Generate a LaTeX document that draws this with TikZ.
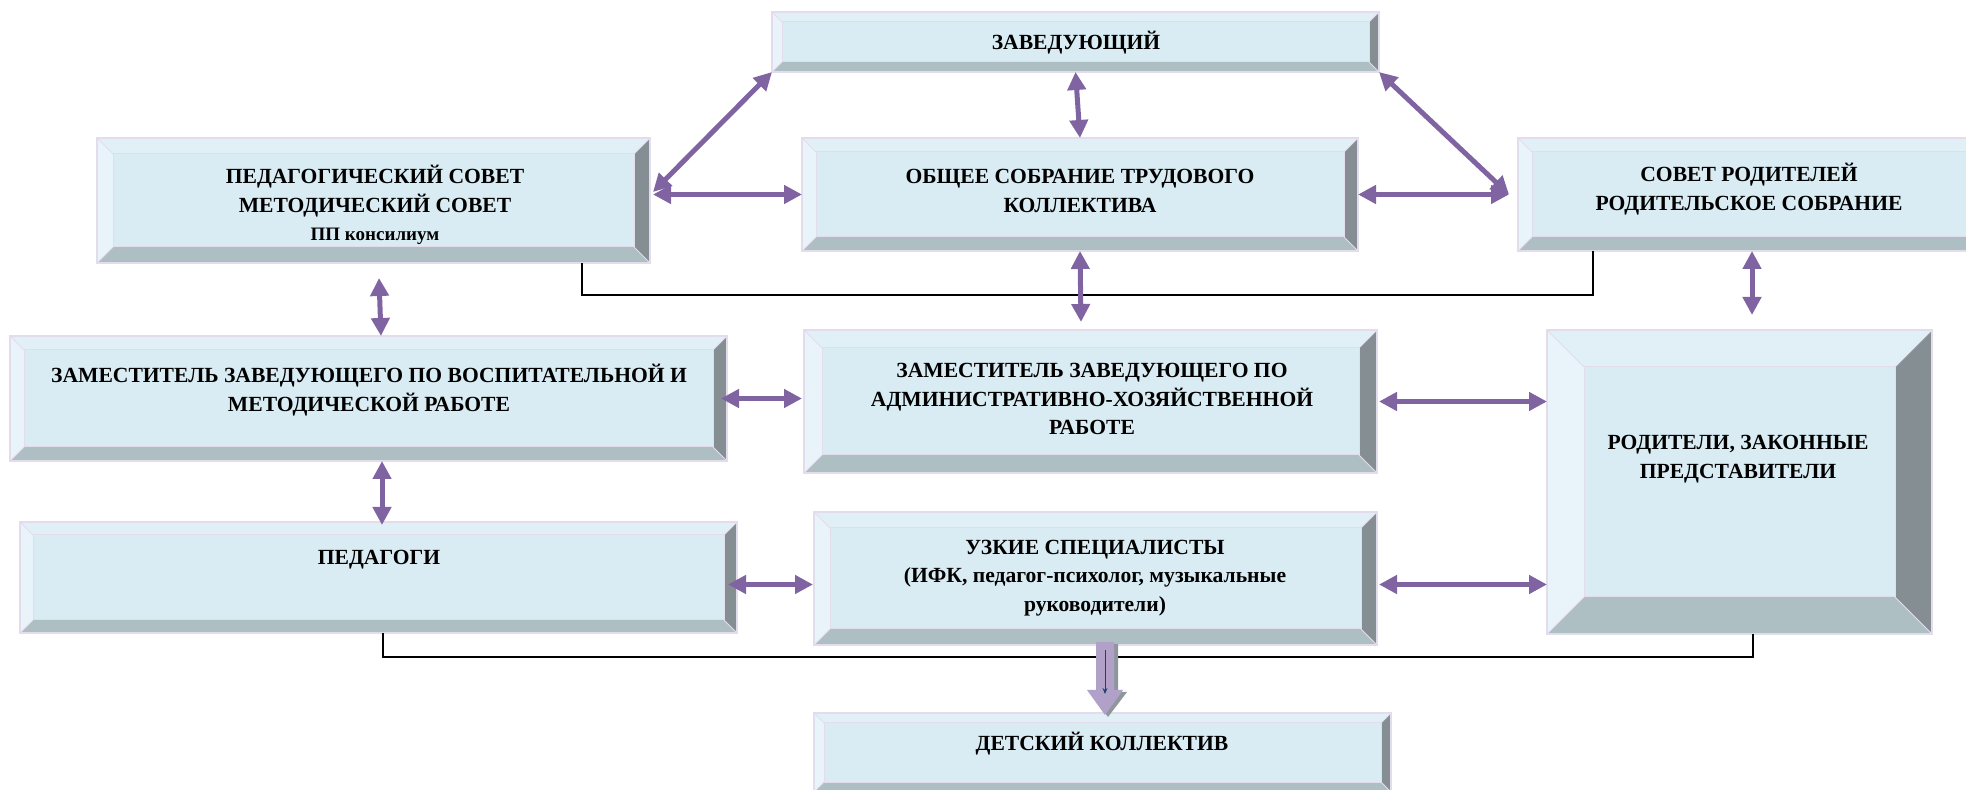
\documentclass[tikz,border=0pt]{standalone}
\usepackage{fontspec}
\setmainfont{Liberation Serif}
\usetikzlibrary{arrows.meta,calc}
\definecolor{cface}{HTML}{DAECF3}
\definecolor{ctop}{HTML}{E1F0F6}
\definecolor{cleft}{HTML}{E9F4FA}
\definecolor{cright}{HTML}{858E93}
\definecolor{cbottom}{HTML}{AEBFC3}
\definecolor{cedge}{HTML}{E2DCEC}
\definecolor{arrowc}{HTML}{8064A2}
\definecolor{bigarrow}{HTML}{B1A0C7}
\definecolor{bigshadow}{HTML}{8D979C}
\definecolor{blueline}{HTML}{1F3F7A}
\tikzset{
  boxshape/.style={rectangle, draw=none, inner sep=0pt, outer sep=0pt},
  edgeline/.style={draw=cedge, line width=0.8pt},
  inedge/.style={draw=cedge, line width=0.5pt},
  lbl/.style={font=\bfseries\fontsize{10.8}{14.2}\selectfont, align=center, inner sep=0pt},
  conn/.style={draw=arrowc, line width=2.5pt, {Triangle[length=9pt,width=9pt]}-{Triangle[length=9pt,width=9pt]}},
  bracket/.style={draw=black, line width=1pt},
}
% name, x1, y1, x2, y2, bevel (px units)
\newcommand\bevelbox[6]{%
  \node[boxshape, minimum width={(#4-#2)*0.5pt}, minimum height={(#5-#3)*0.5pt}] (#1) at ({(#2+#4)/2},{(#3+#5)/2}) {};
  \coordinate (#1-a) at ($(#1.north west)+(#6,#6)$);
  \coordinate (#1-b) at ($(#1.south east)-(#6,#6)$);
  \fill[cface] (#1-a) rectangle (#1-b);
  \fill[ctop] (#1.north west) -- (#1.north east) -- (#1-b |- #1-a) -- (#1-a) -- cycle;
  \fill[cleft] (#1.north west) -- (#1-a) -- (#1-a |- #1-b) -- (#1.south west) -- cycle;
  \fill[cright] (#1.north east) -- (#1.south east) -- (#1-b) -- (#1-b |- #1-a) -- cycle;
  \fill[cbottom] (#1.south west) -- (#1.south east) -- (#1-b) -- (#1-a |- #1-b) -- cycle;
  \draw[inedge] (#1-a) rectangle (#1-b);
  \draw[inedge] (#1.north west) -- (#1-a) (#1.north east) -- (#1-b |- #1-a)
     (#1.south east) -- (#1-b) (#1.south west) -- (#1-a |- #1-b);
  \draw[edgeline] (#1.north west) rectangle (#1.south east);
}
\begin{document}
\begin{tikzpicture}[x=0.5pt,y=-0.5pt]
\useasboundingbox (0,0) rectangle (1966,790);
\clip (0,0) rectangle (1966,790);

\bevelbox{zav}{772}{12}{1379}{72}{10}
\bevelbox{ped}{97}{138}{650}{263}{16}
\bevelbox{obs}{802}{138}{1358}{251}{14}
\bevelbox{sov}{1518}{138}{1990}{251}{14}
\bevelbox{vosp}{10}{336}{727}{461}{14}
\bevelbox{adm}{804}{330}{1377}{473}{18}
\bevelbox{rod}{1547}{330}{1932}{634}{37}
\bevelbox{pedg}{20}{522}{737}{633}{13}
\bevelbox{uzk}{814}{512}{1377}{645}{16}
\bevelbox{det}{814}{713}{1391}{792}{10}

% texts
\node[lbl] (zavt) at (1076,43) {ЗАВЕДУЮЩИЙ};
\node[lbl] (pedt) at (375,205) {ПЕДАГОГИЧЕСКИЙ СОВЕТ\\МЕТОДИЧЕСКИЙ СОВЕТ\\{\fontsize{9.5}{12}\selectfont ПП консилиум}};
\node[lbl] (obst) at (1080,191) {ОБЩЕЕ СОБРАНИЕ ТРУДОВОГО\\КОЛЛЕКТИВА};
\node[lbl] (sovt) at (1749,189) {СОВЕТ РОДИТЕЛЕЙ\\РОДИТЕЛЬСКОЕ СОБРАНИЕ};
\node[lbl] (vospt) at (369,390) {ЗАМЕСТИТЕЛЬ ЗАВЕДУЮЩЕГО ПО ВОСПИТАТЕЛЬНОЙ И\\МЕТОДИЧЕСКОЙ РАБОТЕ};
\node[lbl] (admt) at (1092,399) {ЗАМЕСТИТЕЛЬ ЗАВЕДУЮЩЕГО ПО\\АДМИНИСТРАТИВНО-ХОЗЯЙСТВЕННОЙ\\РАБОТЕ};
\node[lbl] (rodt) at (1738,459) {РОДИТЕЛИ, ЗАКОННЫЕ\\ПРЕДСТАВИТЕЛИ};
\node[lbl] (pedgt) at (379,560) {ПЕДАГОГИ};
\node[lbl] (uzkt) at (1095,578) {УЗКИЕ СПЕЦИАЛИСТЫ\\(ИФК, педагог-психолог, музыкальные\\руководители)};
\node[lbl] (dett) at (1102,744) {ДЕТСКИЙ КОЛЛЕКТИВ};

% brackets
\draw[bracket] ([xshift=104pt]ped.south) -- ++(0,32) -| ([xshift=-80.5pt]sov.south);
\draw[bracket] ([xshift=2pt]pedg.south) -- ++(0,24) -| ([xshift=6.5pt]rod.south);

% connectors
\draw[conn] (zav.south west) -- ([xshift=1.5pt,yshift=4.25pt]ped.east);
\draw[conn] (zav.south) -- (obs.north);
\draw[conn] (zav.south east) -- ([xshift=-4.5pt]sov.west);
\draw[conn] ([xshift=1.5pt,yshift=3pt]ped.east) -- (obs.west);
\draw[conn] (obs.east) -- ([xshift=-4.5pt]sov.west);
\draw[conn] (obs.south) -- ([xshift=-4.75pt,yshift=4pt]adm.north);
\draw[conn] ([xshift=2.75pt,yshift=-7.5pt]ped.south) -- ([xshift=6.25pt]vosp.north);
\draw[conn] ([xshift=-1pt]sov.south) -- ([xshift=6.25pt,yshift=7.5pt]rod.north);
\draw[conn] ([xshift=-3pt]vosp.east) -- ([xshift=-1pt]vosp.east -| adm.west);
\draw[conn] ([xshift=1pt]adm.east) -- (adm.east -| rod.west);
\draw[conn] ([xshift=6.75pt]vosp.south) -- ([xshift=6.75pt,yshift=-1.5pt]vosp.south |- pedg.north);
\draw[conn] ([xshift=-4.5pt,yshift=-3.5pt]pedg.east) -- ([xshift=-0.5pt,yshift=-3.5pt]pedg.east -| uzk.west);
\draw[conn] ([xshift=1pt,yshift=-3pt]uzk.east) -- ([yshift=-3pt]uzk.east -| rod.west);

% big block arrow to children
\coordinate (ba) at ([xshift=4.75pt,yshift=1.5pt]uzk.south);
\fill[bigshadow, shift={(ba)}] (-5,2) -- (13,2) -- (13,50) -- (22,50) -- (3,75) -- (-14,50) -- (-5,50) -- cycle;
\fill[bigarrow, shift={(ba)}] (-9,0) -- (9,0) -- (9,48) -- (18,48) -- (0,73) -- (-18,48) -- (-9,48) -- cycle;
\draw[blueline, line width=0.5pt, -{Stealth[length=3pt,width=2.5pt]}] ([yshift=-4pt]ba) -- ([yshift=-26pt]ba);
\end{tikzpicture}
\end{document}
